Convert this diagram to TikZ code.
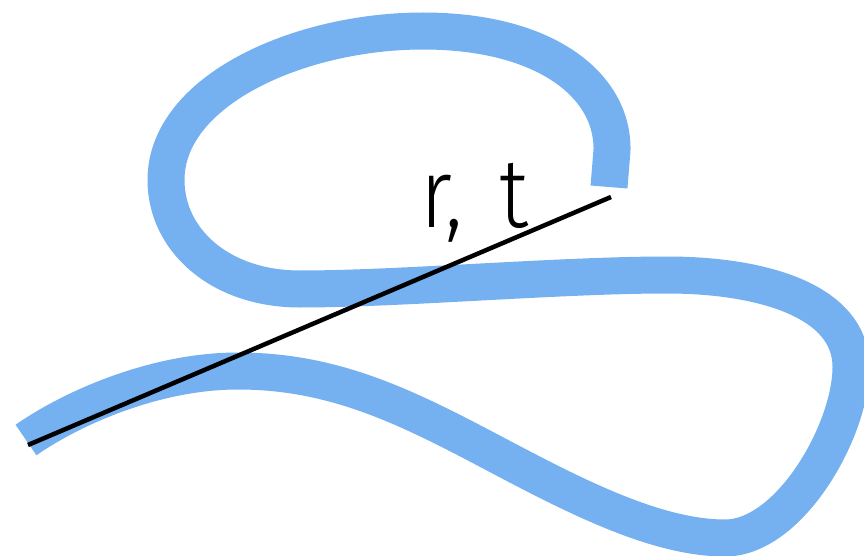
\documentclass[tikz,border=0pt]{standalone}
\usepackage{fontspec}
\setmainfont{Fira Sans Light}[WordSpace=1.55]
\usetikzlibrary{positioning}
\definecolor{curvecolor}{RGB}{117, 176, 241}
\definecolor{linecolor}{RGB}{0, 0, 0}
\tikzset{
curve/.style={
  draw=curvecolor,
  line width=37pt,
  line cap=butt,
  line join=round
},
chord/.style={
  draw=linecolor,
  line width=4.5pt,
  line cap=butt
},
chordlabel/.style={
  font=\fontsize{98}{110}\selectfont,
  text=linecolor,
  inner sep=0pt,
  xscale=0.87,
  anchor=base west
}
}
\begin{document}
\begin{tikzpicture}[x=1pt, y=-1pt]

% ============================================================================
% Area
% ============================================================================
\useasboundingbox (0, 0) rectangle (864, 556);

% ============================================================================
% Curva
% ============================================================================
\draw[curve] (26, 440)
  .. controls (72, 408) and (155, 371) .. (238, 371)
  .. controls (330, 371) and (400, 404) .. (480, 446)
  .. controls (560, 488) and (650, 538) .. (725, 538)
  .. controls (790, 538) and (851, 430) .. (851, 367)
  .. controls (851, 300) and (760, 275) .. (667, 275)
  .. controls (560, 275) and (400, 289) .. (300, 289)
  .. controls (220, 289) and (166, 240) .. (166, 180)
  .. controls (166, 90) and (300, 31) .. (423, 31)
  .. controls (545, 31) and (613, 85) .. (612, 150)
  -- (609, 187);

% ============================================================================
% Reta
% ============================================================================
\coordinate (chord_a) at (28, 445);
\coordinate (chord_b) at (611, 197);
\draw[chord] (chord_a) -- (chord_b);

% ============================================================================
% Rotulo
% ============================================================================
\node[chordlabel] (label_rt) at (420, 227) {r, t};

\end{tikzpicture}
\end{document}
